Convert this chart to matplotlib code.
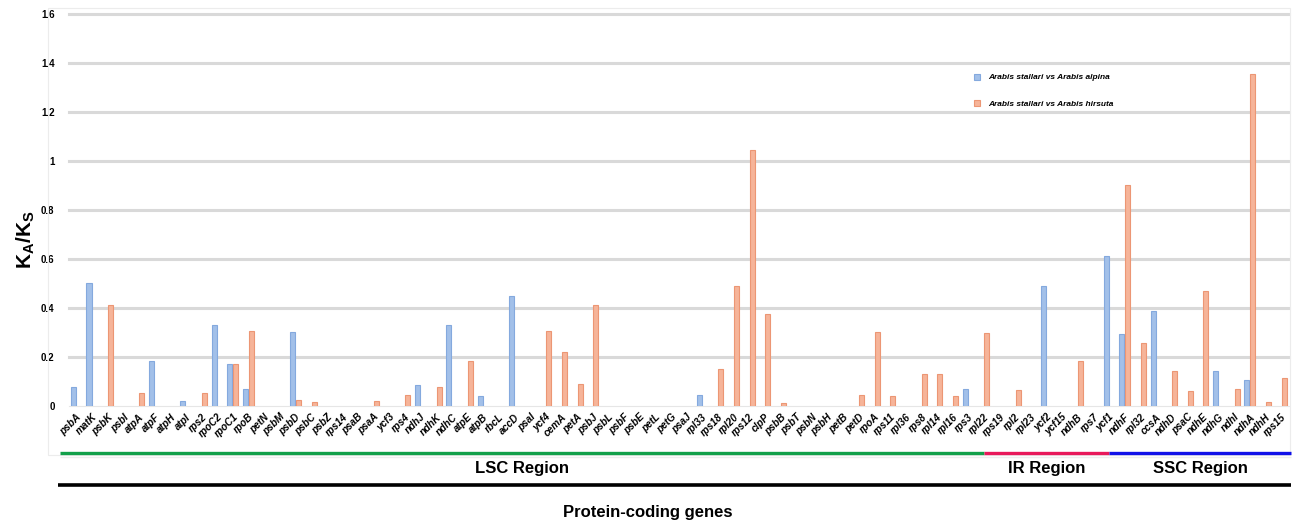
import numpy as np
import matplotlib.pyplot as plt
import matplotlib.transforms as mtransforms
from matplotlib.lines import Line2D
from matplotlib.patches import Rectangle

plt.rcParams['font.family'] = ['Liberation Sans', 'DejaVu Sans']
plt.rcParams['mathtext.fontset'] = 'custom'
plt.rcParams['mathtext.rm'] = 'Liberation Sans'
plt.rcParams['mathtext.bf'] = 'Liberation Sans:bold'

# gene order along the x axis
genes = ['psbA', 'matK', 'psbK', 'psbI', 'atpA', 'atpF', 'atpH', 'atpI', 'rps2', 'rpoC2',
         'rpoC1', 'rpoB', 'petN', 'psbM', 'psbD', 'psbC', 'psbZ', 'rps14', 'psaB', 'psaA',
         'ycf3', 'rps4', 'ndhJ', 'ndhK', 'ndhC', 'atpE', 'atpB', 'rbcL', 'accD', 'psaI',
         'ycf4', 'cemA', 'petA', 'psbJ', 'psbL', 'psbF', 'psbE', 'petL', 'petG', 'psaJ',
         'rpl33', 'rps18', 'rpl20', 'rps12', 'clpP', 'psbB', 'psbT', 'psbN', 'psbH', 'petB',
         'petD', 'rpoA', 'rps11', 'rpl36', 'rps8', 'rpl14', 'rpl16', 'rps3', 'rpl22', 'rps19',
         'rpl2', 'rpl23', 'ycf2', 'ycf15', 'ndhB', 'rps7', 'ycf1', 'ndhF', 'rpl32', 'ccsA',
         'ndhD', 'psaC', 'ndhE', 'ndhG', 'ndhI', 'ndhA', 'ndhH', 'rps15']

# Ka/Ks, A. stallari vs A. alpina (only non-zero genes listed)
alpina = {'psbA': 0.078, 'matK': 0.502, 'atpF': 0.186, 'atpI': 0.023, 'rpoC2': 0.331,
          'rpoC1': 0.171, 'rpoB': 0.071, 'psbD': 0.301, 'ndhJ': 0.087, 'ndhC': 0.332,
          'atpB': 0.042, 'accD': 0.450, 'rpl33': 0.046, 'rps3': 0.071, 'ycf2': 0.491,
          'ycf1': 0.613, 'ndhF': 0.295, 'ccsA': 0.389, 'ndhG': 0.143, 'ndhA': 0.106}

# Ka/Ks, A. stallari vs A. hirsuta
hirsuta = {'psbK': 0.414, 'atpA': 0.056, 'rps2': 0.053, 'rpoC1': 0.171, 'rpoB': 0.307,
           'psbD': 0.026, 'psbC': 0.018, 'psaA': 0.022, 'rps4': 0.045, 'ndhK': 0.079,
           'atpE': 0.186, 'ycf4': 0.306, 'cemA': 0.223, 'petA': 0.091, 'psbJ': 0.415,
           'rps18': 0.152, 'rpl20': 0.491, 'rps12': 1.046, 'clpP': 0.377, 'psbB': 0.015,
           'petD': 0.046, 'rpoA': 0.303, 'rps11': 0.042, 'rps8': 0.131, 'rpl14': 0.132,
           'rpl16': 0.041, 'rpl22': 0.299, 'rpl2': 0.067, 'ndhB': 0.185, 'ndhF': 0.903,
           'rpl32': 0.258, 'ndhD': 0.144, 'psaC': 0.062, 'ndhE': 0.471, 'ndhI': 0.072,
           'ndhA': 1.357, 'ndhH': 0.018, 'rps15': 0.116}

# regions: (label, first gene, last gene, colour)
regions = [('LSC Region', 'psbA', 'rpl22', '#12a04a'),
           ('IR Region', 'rpl22', 'ycf1', '#e8185a'),
           ('SSC Region', 'ycf1', 'rps15', '#1010e8')]

yticks = [0, 0.2, 0.4, 0.6, 0.8, 1, 1.2, 1.4, 1.6]
ytick_labels = ['0', '0.2', '0.4', '0.6', '0.8', '1', '1.2', '1.4', '1.6']

W, H = 1295, 523
fig = plt.figure(figsize=(W / 100, H / 100), dpi=100)
ax = fig.add_axes([68.5 / W, 1 - 406.3 / H, (1289 - 68.5) / W, (406.3 - 14) / H])

x = np.arange(len(genes))
ya = np.array([alpina.get(g, 0) for g in genes])
yh = np.array([hirsuta.get(g, 0) for g in genes])
ya_plot = np.where(ya > 0, ya, np.nan)
yh_plot = np.where(yh > 0, yh, np.nan)

bw = 0.32
ax.bar(x - 0.19, ya_plot, bw, color='#a2c0e9', edgecolor='#84a9de', linewidth=0.8,
       label='Arabis stallari vs Arabis alpina', zorder=3)
ax.bar(x + 0.19, yh_plot, bw, color='#f6b499', edgecolor='#ec9674', linewidth=0.8,
       label='Arabis stallari vs Arabis hirsuta', zorder=3)

ax.set_xlim(-0.5, len(genes) - 0.5)
ax.set_ylim(0, 1.6)
ax.set_yticks(yticks)
ax.set_yticklabels(ytick_labels, fontsize=7, fontweight='bold')
for t in yticks[1:]:
    ax.axhline(t, color='#d9d9d9', lw=2.2, zorder=1, clip_on=False)
for s in ['top', 'right', 'left']:
    ax.spines[s].set_visible(False)
ax.spines['bottom'].set_color('#e6e6e6')
ax.tick_params(axis='both', length=0)
ax.tick_params(axis='y', pad=10)

ax.set_xticks(x)
ax.set_xticklabels(genes, rotation=45, ha='right', rotation_mode='anchor',
                   fontsize=7.2, fontstyle='italic', fontweight='bold')
offset = mtransforms.ScaledTranslation(6 / 100, 0, fig.dpi_scale_trans)
for lab in ax.get_xticklabels():
    lab.set_transform(lab.get_transform() + offset)
ax.tick_params(axis='x', pad=4)

ax.set_ylabel(r'$\mathbf{K_A/K_S}$', fontsize=15)
ax.yaxis.set_label_coords(-0.026, 0.424)

leg = ax.legend(loc='upper left', bbox_to_anchor=(966 / W, 1 - 66 / H),
                bbox_transform=fig.transFigure, frameon=False, fontsize=6,
                handlelength=0.75, handleheight=0.75, labelspacing=2.2, handletextpad=1.0)
for t in leg.get_texts():
    t.set_fontstyle('italic')
    t.set_fontweight('bold')

# faint chart border
fig.patches.append(Rectangle((48 / W, 1 - 455 / H), (1290 - 48) / W, (455 - 8) / H,
                             transform=fig.transFigure, fill=False,
                             edgecolor='#ececec', lw=0.8))

# region bars below the axis
blend = mtransforms.blended_transform_factory(ax.transData, fig.transFigure)
idx = {g: i for i, g in enumerate(genes)}
y_reg = 1 - 453 / H
for k, (name, g0, g1, col) in enumerate(regions):
    x0 = idx[g0] if k > 0 else -1.05
    x1 = idx[g1] if k < len(regions) - 1 else len(genes) - 0.35
    fig.add_artist(Line2D([x0, x1], [y_reg, y_reg], transform=blend, color=col, lw=2.4,
                          solid_capstyle='butt'))
    fig.add_artist(Line2D([x0, x1], [y_reg - 4 / H, y_reg - 4 / H], transform=blend,
                          color='#eeeeee', lw=1, solid_capstyle='butt'))
    fig.text((x0 + x1) / 2, 1 - 468 / H, name, transform=blend, ha='center',
             va='center', fontsize=12, fontweight='bold')

fig.add_artist(Line2D([-1.15, len(genes) - 0.35], [1 - 485 / H, 1 - 485 / H],
                      transform=blend, color='black', lw=2.6, solid_capstyle='butt'))
fig.text(0.5, 1 - 512 / H, 'Protein-coding genes', ha='center', va='center',
         fontsize=12, fontweight='bold')

fig.savefig('out.png', dpi=100)
